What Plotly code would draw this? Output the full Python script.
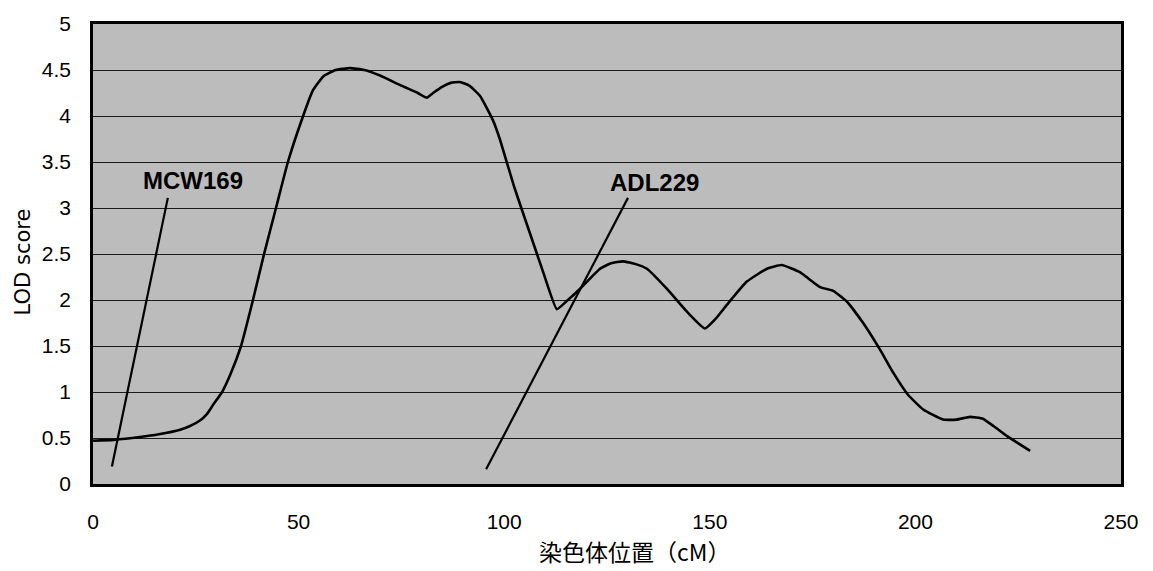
import plotly.graph_objects as go

# LOD curve (cM, LOD)
pos_cm = [0, 5, 11.4, 16, 21.2, 23.6, 26, 27.7, 29.2, 31.4, 33.5, 36, 38.9, 41.6, 44.5, 47.4,
          51.1, 53.5, 56, 59, 62.5, 66, 69.8, 75, 79, 81.2, 82.7, 85, 87, 89.2, 91.5, 94.1,
          97.3, 99, 102.5, 106.3, 109.5, 112.8, 115, 118.4, 123.3, 126, 128.9, 132, 134.7,
          139.6, 144.5, 148.8, 151.5, 154.2, 159, 163.9, 167.5, 172, 176.8, 180, 183.4,
          187.3, 191.4, 194.6, 198.2, 201.9, 206.7, 210, 213.3, 216.4, 219, 222.3, 227.9]
lod = [0.47, 0.48, 0.51, 0.54, 0.59, 0.63, 0.69, 0.76, 0.86, 1.0, 1.2, 1.5, 2.0, 2.5, 3.0, 3.5,
       4.0, 4.28, 4.43, 4.5, 4.52, 4.5, 4.44, 4.33, 4.25, 4.2, 4.25, 4.32, 4.36, 4.37, 4.33, 4.22,
       3.95, 3.74, 3.22, 2.72, 2.3, 1.9, 1.98, 2.12, 2.34, 2.4, 2.42, 2.39, 2.34,
       2.12, 1.87, 1.69, 1.8, 1.95, 2.2, 2.34, 2.38, 2.3, 2.14, 2.1, 1.98,
       1.75, 1.46, 1.21, 0.97, 0.81, 0.7, 0.7, 0.73, 0.71, 0.63, 0.52, 0.36]

# marker labels and their pointer lines
marker_names = ["MCW169", "ADL229"]
marker_text_x = [24.2, 136.5]
marker_text_y = [3.30, 3.28]
line_x0 = [4.6, 95.6]
line_y0 = [0.19, 0.16]
line_x1 = [18.2, 130.1]
line_y1 = [3.11, 3.11]

x_ticks = [0, 50, 100, 150, 200, 250]
y_ticks = [0, 0.5, 1, 1.5, 2, 2.5, 3, 3.5, 4, 4.5, 5]
y_tick_text = ["0", "0.5", "1", "1.5", "2", "2.5", "3", "3.5", "4", "4.5", "5"]

x_title = "染色体位置（cM）"
y_title = "LOD score"

fig = go.Figure()
fig.add_trace(go.Scatter(x=pos_cm, y=lod, mode="lines",
                         line=dict(color="black", width=2.6, shape="spline", smoothing=0.4),
                         showlegend=False, hoverinfo="skip"))
for i in range(len(marker_names)):
    fig.add_trace(go.Scatter(x=[line_x0[i], line_x1[i]], y=[line_y0[i], line_y1[i]],
                             mode="lines", line=dict(color="black", width=2.2),
                             showlegend=False, hoverinfo="skip"))
    fig.add_annotation(x=marker_text_x[i], y=marker_text_y[i], text="<b>" + marker_names[i] + "</b>",
                       showarrow=False, font=dict(family="Liberation Sans", size=24, color="black"),
                       xanchor="center", yanchor="middle")

fig.add_annotation(x=131.6, y=-0.146, xref="x", yref="paper", text=x_title, showarrow=False,
                   font=dict(family="Noto Sans CJK JP", size=23, color="black"),
                   xanchor="center", yanchor="middle")
fig.add_annotation(x=-0.068, y=2.41, xref="paper", yref="y", text=y_title, showarrow=False,
                   textangle=-90, font=dict(family="DejaVu Sans", size=21, color="black"),
                   xanchor="center", yanchor="middle")

font_main = dict(family="Liberation Sans", size=21, color="black")
fig.update_layout(
    width=1153, height=571,
    margin=dict(l=93, r=32, t=21, b=87),
    paper_bgcolor="white",
    plot_bgcolor="#bcbcbc",
    font=font_main,
    showlegend=False,
    xaxis=dict(range=[0, 250], tickvals=x_ticks, ticks="", showgrid=False, zeroline=False,
               showline=True, linecolor="black", linewidth=2.5, mirror=True,
               ticklabelstandoff=17, tickfont=font_main),
    yaxis=dict(range=[0, 5], tickvals=y_ticks, ticktext=y_tick_text, ticks="",
               showgrid=True, gridcolor="#1a1a1a", gridwidth=1.3, zeroline=False,
               showline=True, linecolor="black", linewidth=2.5, mirror=True,
               ticklabelstandoff=15, tickfont=font_main),
)
fig.write_html("out.html")
